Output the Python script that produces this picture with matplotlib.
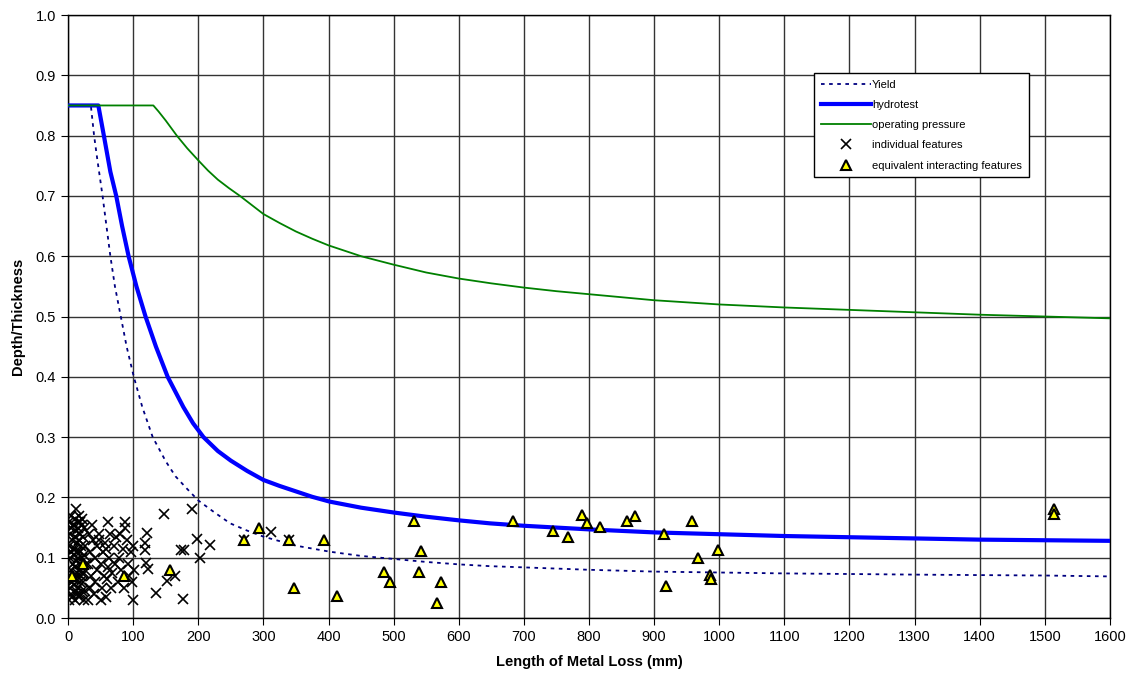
import numpy as np
import matplotlib
matplotlib.use("Agg")
import matplotlib.pyplot as plt
from matplotlib.ticker import MultipleLocator, FormatStrFormatter

plt.rcParams['font.family'] = ['Liberation Sans', 'DejaVu Sans']

# acceptance curves
yield_len = [0, 35, 40, 45, 53, 59, 65, 72, 81, 90, 101, 114, 130, 150, 165, 183, 200, 225, 249, 275, 300,
             350, 402, 450, 500, 550, 600, 648, 700, 800, 900, 1000, 1100, 1200, 1300, 1400, 1500, 1600]
yield_depth = [0.85, 0.85, 0.80, 0.76, 0.70, 0.65, 0.60, 0.55, 0.50, 0.45, 0.40, 0.35, 0.30, 0.26, 0.235, 0.214,
               0.195, 0.175, 0.157, 0.145, 0.135, 0.120, 0.110, 0.103, 0.098, 0.093, 0.089, 0.086, 0.084, 0.080,
               0.077, 0.0755, 0.074, 0.073, 0.072, 0.0712, 0.0705, 0.069]

hydro_len = [0, 46.5, 55, 65, 74, 83, 93, 105, 119, 135, 153, 177, 192, 208, 230, 250, 275, 300, 325, 350, 375, 402,
             450, 500, 550, 600, 648, 700, 800, 900, 1000, 1100, 1200, 1300, 1400, 1500, 1600]
hydro_depth = [0.85, 0.85, 0.80, 0.74, 0.70, 0.65, 0.60, 0.55, 0.50, 0.45, 0.40, 0.35, 0.323, 0.30, 0.277, 0.261,
               0.244, 0.229, 0.219, 0.210, 0.201, 0.193, 0.183, 0.175, 0.168, 0.162, 0.157, 0.153, 0.147,
               0.142, 0.139, 0.136, 0.134, 0.132, 0.130, 0.129, 0.128]

oper_len = [0, 131, 139, 150, 167, 183, 200, 215, 230, 247, 264, 282, 300, 325, 350, 375, 400, 450, 500, 550, 600,
            650, 700, 750, 800, 900, 1000, 1100, 1200, 1300, 1400, 1500, 1600]
oper_depth = [0.85, 0.85, 0.84, 0.825, 0.80, 0.779, 0.759, 0.742, 0.727, 0.713, 0.70, 0.685, 0.670, 0.655,
              0.641, 0.629, 0.618, 0.600, 0.586, 0.573, 0.563, 0.555, 0.548, 0.542, 0.537, 0.527, 0.520,
              0.515, 0.511, 0.507, 0.503, 0.500, 0.497]

# individual features (length mm, depth/thickness)
ind_len = [2, 5, 3, 6, 2, 4, 7, 3, 5, 2, 6, 3, 5, 2, 4,
           10, 12, 9, 11, 13, 10, 12, 9, 11, 13, 10, 12, 9, 11, 12,
           17, 19, 16, 18, 20, 17, 19, 16, 18, 20, 17, 19, 16, 18, 17,
           24, 26, 23, 25, 27, 24, 26, 23, 25, 22,
           6, 8, 14, 15, 21, 22, 7, 14, 21, 8, 14, 22,
           30, 33, 36, 31, 34, 38, 32, 40, 42, 45, 41, 44, 47, 37, 50, 52, 55, 51, 54, 57, 48,
           58, 60, 62, 63, 59, 61, 65, 66, 68, 70, 72, 74, 76, 78, 80, 82, 84, 86, 88, 88,
           90, 92, 94, 96, 98, 100, 100, 101,
           118, 118, 119, 122, 123, 135, 147, 152, 165, 173, 178, 177, 191, 198, 202, 218,
           270, 311, 339]
ind_depth = [0.03, 0.04, 0.05, 0.06, 0.07, 0.08, 0.09, 0.10, 0.11, 0.12, 0.13, 0.14, 0.15, 0.16, 0.17,
             0.03, 0.045, 0.055, 0.065, 0.075, 0.085, 0.095, 0.105, 0.115, 0.125, 0.135, 0.145, 0.155, 0.165, 0.18,
             0.035, 0.04, 0.05, 0.06, 0.07, 0.08, 0.09, 0.10, 0.11, 0.12, 0.13, 0.14, 0.15, 0.16, 0.17,
             0.03, 0.045, 0.06, 0.075, 0.09, 0.105, 0.12, 0.135, 0.15, 0.165,
             0.035, 0.155, 0.04, 0.16, 0.045, 0.155, 0.115, 0.11, 0.10, 0.065, 0.07, 0.075,
             0.03, 0.05, 0.07, 0.09, 0.11, 0.13, 0.14, 0.04, 0.06, 0.08, 0.10, 0.12, 0.13, 0.155, 0.03, 0.05, 0.07, 0.09, 0.11, 0.125, 0.14,
             0.035, 0.065, 0.085, 0.10, 0.115, 0.16, 0.14, 0.05, 0.075, 0.12, 0.09, 0.135, 0.06, 0.10, 0.14, 0.08, 0.115, 0.05, 0.16, 0.15,
             0.13, 0.09, 0.07, 0.11, 0.06, 0.12, 0.03, 0.08,
             0.124, 0.112, 0.091, 0.141, 0.081, 0.041, 0.172, 0.061, 0.07, 0.112, 0.112, 0.031, 0.181, 0.131, 0.10, 0.121,
             0.13, 0.142, 0.13]

# equivalent interacting features
eq_len = [5.6, 23.5, 86.5, 156.6, 270, 294, 339, 347.5, 393, 412.5, 485, 495, 532, 539.4, 542, 567, 572.7,
          684, 745, 768, 789, 797, 817, 859, 871, 916, 919, 959, 968, 986, 988, 998, 1514, 1514]
eq_depth = [0.07, 0.09, 0.07, 0.08, 0.13, 0.149, 0.13, 0.05, 0.13, 0.036, 0.077, 0.059, 0.161, 0.077, 0.111, 0.025, 0.059,
            0.161, 0.145, 0.134, 0.171, 0.157, 0.151, 0.161, 0.17, 0.139, 0.053, 0.161, 0.099, 0.071, 0.065, 0.112, 0.181, 0.172]

fig = plt.figure(figsize=(11.36, 6.82), dpi=100)
ax = fig.add_axes([0.0599, 0.0938, 0.9171, 0.8842])

ax.plot(yield_len, yield_depth, color='#000080', lw=1.3, ls=(0, (2, 2.5)), label='Yield', zorder=3)
ax.plot(hydro_len, hydro_depth, color='#0000FF', lw=3, label='hydrotest', zorder=3)
ax.plot(oper_len, oper_depth, color='#008000', lw=1.3, label='operating pressure', zorder=3)
ax.plot(ind_len, ind_depth, ls='none', marker='x', ms=6.5, mew=1.2, color='black',
        label='individual features', zorder=4)
ax.plot(eq_len, eq_depth, ls='none', marker='^', ms=6.5, mew=1.5, mfc='#FFFF00', mec='black',
        label='equivalent interacting features', zorder=5)

ax.set_xlim(0, 1600)
ax.set_ylim(0, 1.0)
ax.xaxis.set_major_locator(MultipleLocator(100))
ax.yaxis.set_major_locator(MultipleLocator(0.1))
ax.yaxis.set_major_formatter(FormatStrFormatter('%.1f'))
ax.grid(True, color='#333333', lw=1)
ax.set_axisbelow(True)
ax.tick_params(direction='out', length=5, labelsize=10.5, colors='black')
for s in ax.spines.values():
    s.set_color('black')
    s.set_linewidth(1)

ax.set_xlabel('Length of Metal Loss (mm)', fontsize=10.5, fontweight='bold', labelpad=8)
ax.set_ylabel('Depth/Thickness', fontsize=10.5, fontweight='bold', labelpad=8)

leg = ax.legend(loc='upper left', bbox_to_anchor=(0.711, 0.913), fontsize=8, frameon=True,
                fancybox=False, edgecolor='black', framealpha=1, handlelength=4.5,
                handletextpad=0.1, borderpad=0.6, labelspacing=0.92, numpoints=1)
leg.get_frame().set_linewidth(1)

fig.savefig('out.png', dpi=100)
